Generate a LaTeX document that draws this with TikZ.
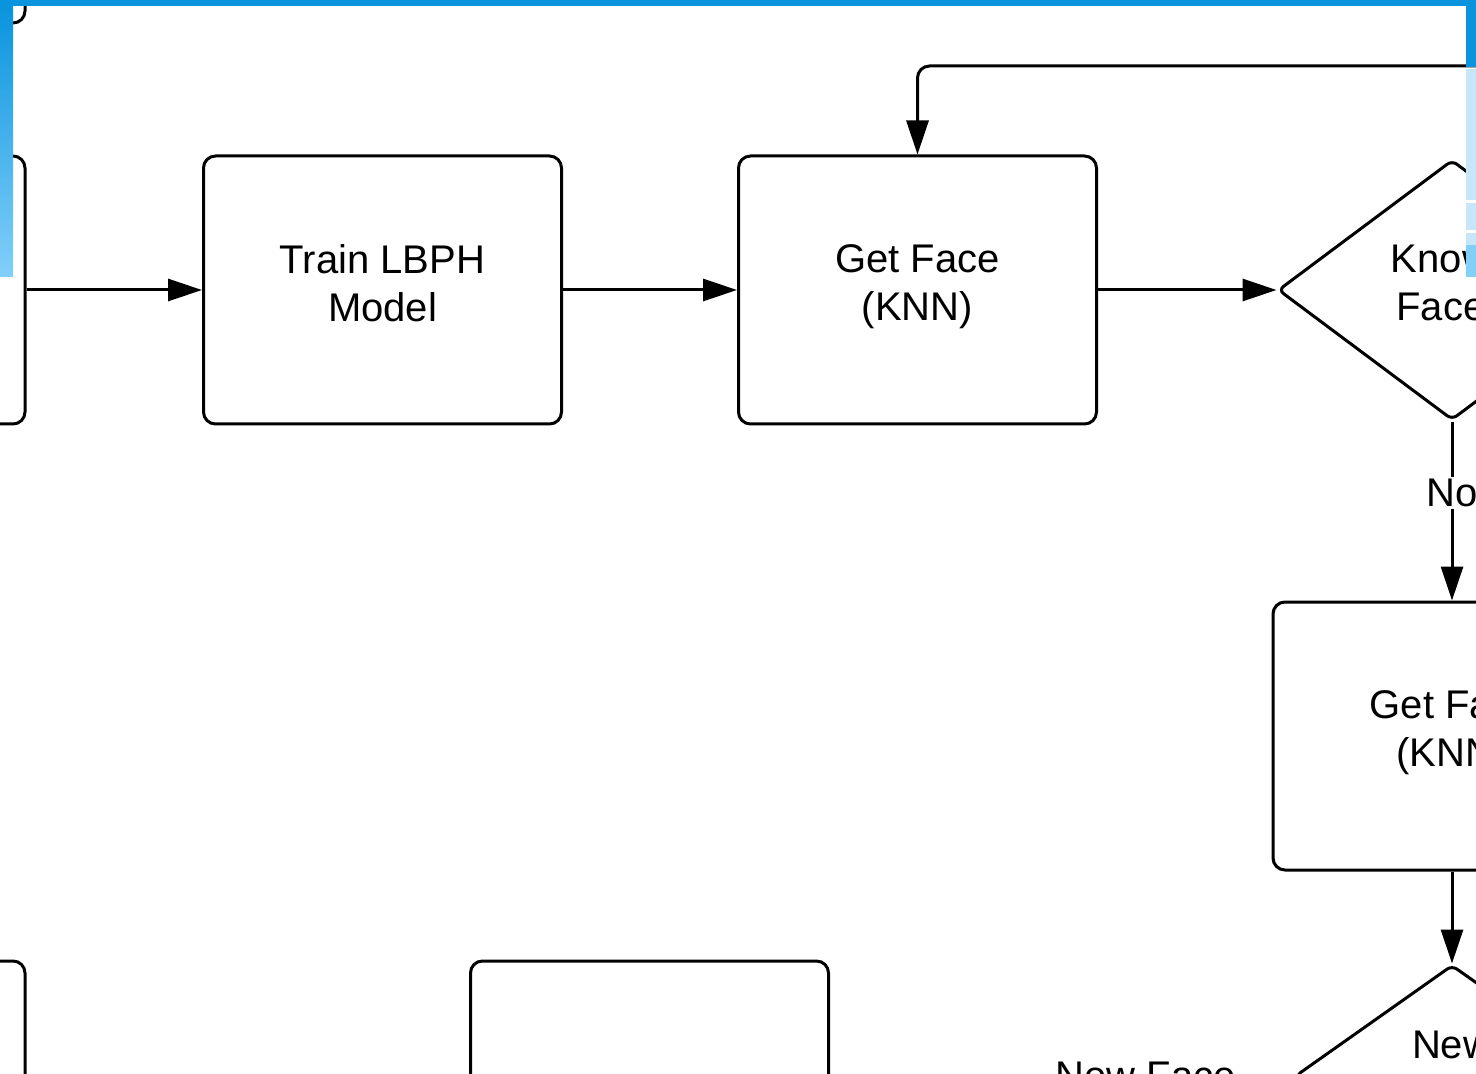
\documentclass[tikz,border=0pt]{standalone}
\usepackage{fontspec}
\setmainfont{Liberation Sans}
\usetikzlibrary{positioning,shapes.geometric,arrows.meta}

\definecolor{barblue}{RGB}{10,148,222}
\definecolor{barlight}{RGB}{130,207,250}
\definecolor{barpale}{RGB}{199,230,250}

\tikzset{
  box/.style={draw, rounded corners=6pt, line width=1.5pt, minimum width=179pt,
    minimum height=134pt, align=center, font=\fontsize{20}{24}\selectfont,
    execute at end node=\strut},
  decision/.style={draw, diamond, rounded corners=3pt, line width=1.5pt, inner sep=0pt,
    minimum width=174pt, minimum height=130pt, align=center,
    font=\fontsize{20}{24}\selectfont, execute at end node=\strut},
  flow/.style={line width=1.5pt, -{Triangle[length=17pt,width=11pt]}},
  lbl/.style={fill=white, inner sep=1pt, font=\fontsize{20}{24}\selectfont},
}

\begin{document}
\begin{tikzpicture}[x=0.5pt,y=-0.5pt]
\useasboundingbox (0,0) rectangle (1476,1074);
\clip (0,0) rectangle (1476,1074);

%% les boites
\node[box] (prevtop) at (-154,-111) {};
\node[box] (prev) at (-154,290) {};
\node[box] (prevbot) at (-154,1095) {};
\node[box] (train) at (382.5,290) {Train LBPH\\Model};
\node[box] (getface) at (917.5,290) {Get Face\\(KNN)};
\node[decision] (known) at (1452,290) {Known\\Face?};
\node[box] (getface2) at (1452,736) {Get Face\\(KNN)};
\node[decision, minimum width=157pt, minimum height=111pt] (newface) at (1452,1076) {New\\Face?};
\node[box] (addface) at (649.5,1095) {};
\coordinate (loop) at (1600,66);
\coordinate (nfdown) at (998,1250);

%% les fleches
\draw[flow] (prev) -- (train);
\draw[flow] (train) -- (getface);
\draw[flow] (getface) -- (known);
\draw[flow] (known) -- node[lbl, pos=0.4] {No} (getface2);
\draw[flow] (getface2) -- (newface);
\draw[flow, rounded corners=6pt] (newface.west) -| node[lbl, pos=0.25] {New Face} (nfdown);
\draw[flow, rounded corners=6pt] (loop) -| (getface); %% retour

%% le cadre bleu
\fill[barblue] (0,0) rectangle (1476,6);
\shade[top color=barblue, bottom color=barlight] (0,6) rectangle (13,277);
\fill[barblue] (1466,0) rectangle (1476,67);
\fill[barpale] (1466,69) rectangle (1476,200);
\fill[barpale] (1466,203) rectangle (1476,230);
\fill[barpale] (1466,233) rectangle (1476,245);
\fill[barlight] (1466,245) rectangle (1476,277);
\end{tikzpicture}
\end{document}
